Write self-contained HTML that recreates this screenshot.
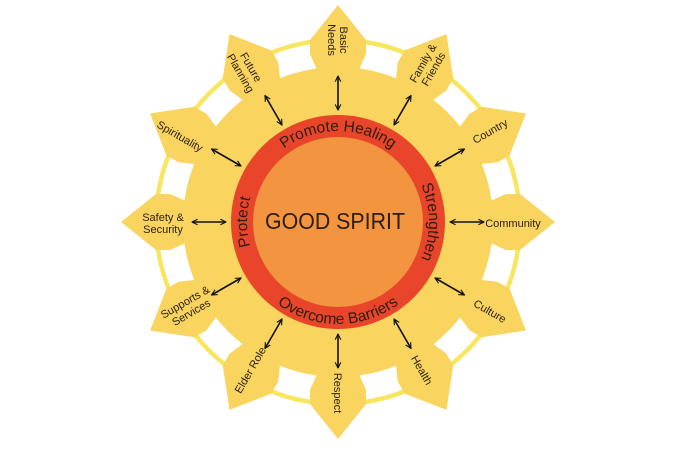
<!DOCTYPE html>
<html><head><meta charset="utf-8"><style>
html,body{margin:0;padding:0;background:#fff;}
svg{display:block;}
text{font-family:"Liberation Sans",sans-serif;fill:#2a1e0e;}
</style></head><body>
<svg width="675" height="450" viewBox="0 0 675 450" xmlns="http://www.w3.org/2000/svg">
<defs>
<marker id="ah" viewBox="0 0 10 10" refX="9" refY="5" markerWidth="7" markerHeight="7" orient="auto-start-reverse" markerUnits="userSpaceOnUse">
<path d="M1,1 L9,5 L1,9" fill="none" stroke="#111" stroke-width="1.6"/>
</marker>
<polygon id="ray" points="0,-217 28,-182 28,-168 20,-150 20,-120 -20,-120 -20,-150 -28,-168 -28,-182" fill="#f9d45e"/>
<line id="arr" x1="0" y1="-112" x2="0" y2="-146" stroke="#111" stroke-width="1.6" marker-start="url(#ah)" marker-end="url(#ah)"/>
<path id="pTop" d="M247,222 A91,91 0 0 1 429,222"/>
<path id="pRight" d="M338,131 A91,91 0 0 1 338,313"/>
<path id="pBot" d="M236,222 A102,102 0 0 0 440,222"/>
<path id="pLeft" d="M338,313 A91,91 0 0 1 338,131"/>
</defs>
<circle cx="338" cy="222" r="182" fill="none" stroke="#f8e560" stroke-width="4.5"/>
<g transform="translate(338,222)">
<use href="#ray" transform="rotate(0)"/><use href="#ray" transform="rotate(30)"/><use href="#ray" transform="rotate(60)"/>
<use href="#ray" transform="rotate(90)"/><use href="#ray" transform="rotate(120)"/><use href="#ray" transform="rotate(150)"/>
<use href="#ray" transform="rotate(180)"/><use href="#ray" transform="rotate(210)"/><use href="#ray" transform="rotate(240)"/>
<use href="#ray" transform="rotate(270)"/><use href="#ray" transform="rotate(300)"/><use href="#ray" transform="rotate(330)"/>
</g>
<circle cx="338" cy="222" r="155" fill="#f9d45e"/>
<g transform="translate(338,222)">
<use href="#arr" transform="rotate(0)"/><use href="#arr" transform="rotate(30)"/><use href="#arr" transform="rotate(60)"/>
<use href="#arr" transform="rotate(90)"/><use href="#arr" transform="rotate(120)"/><use href="#arr" transform="rotate(150)"/>
<use href="#arr" transform="rotate(180)"/><use href="#arr" transform="rotate(210)"/><use href="#arr" transform="rotate(240)"/>
<use href="#arr" transform="rotate(270)"/><use href="#arr" transform="rotate(300)"/><use href="#arr" transform="rotate(330)"/>
</g>
<circle cx="338" cy="222" r="107" fill="#e8452b"/>
<circle cx="338" cy="222" r="85" fill="#f39440"/>
<text x="335" y="229" font-size="23" text-anchor="middle" textLength="140" lengthAdjust="spacingAndGlyphs">GOOD SPIRIT</text>
<g font-size="15.5">
<text><textPath href="#pTop" startOffset="50%" text-anchor="middle">Promote Healing</textPath></text>
<text><textPath href="#pRight" startOffset="50%" text-anchor="middle">Strengthen</textPath></text>
<text><textPath href="#pBot" startOffset="50%" text-anchor="middle">Overcome Barriers</textPath></text>
<text><textPath href="#pLeft" startOffset="50%" text-anchor="middle">Protect</textPath></text>
</g>
<g font-size="11" text-anchor="middle">
<text transform="translate(338,40) rotate(90)"><tspan x="0" y="-2">Basic</tspan><tspan x="0" y="10">Needs</tspan></text>
<text transform="translate(428,66) rotate(-60)"><tspan x="0" y="-2">Family &amp;</tspan><tspan x="0" y="10">Friends</tspan></text>
<text transform="translate(490,131) rotate(-30)"><tspan x="0" y="4">Country</tspan></text>
<text transform="translate(513,223)"><tspan x="0" y="4">Community</tspan></text>
<text transform="translate(490,311) rotate(30)"><tspan x="0" y="4">Culture</tspan></text>
<text transform="translate(422,370) rotate(60)"><tspan x="0" y="4">Health</tspan></text>
<text transform="translate(338,393) rotate(90)"><tspan x="0" y="4">Respect</tspan></text>
<text transform="translate(250,370) rotate(-60)"><tspan x="0" y="4">Elder Role</tspan></text>
<text transform="translate(188,307) rotate(-30)"><tspan x="0" y="-2">Supports &amp;</tspan><tspan x="0" y="10">Services</tspan></text>
<text transform="translate(163,223)"><tspan x="0" y="-2">Safety &amp;</tspan><tspan x="0" y="10">Security</tspan></text>
<text transform="translate(180,136) rotate(30)"><tspan x="0" y="4">Spirituality</tspan></text>
<text transform="translate(246,70) rotate(60)"><tspan x="0" y="-2">Future</tspan><tspan x="0" y="10">Planning</tspan></text>
</g>
</svg>
</body></html>
